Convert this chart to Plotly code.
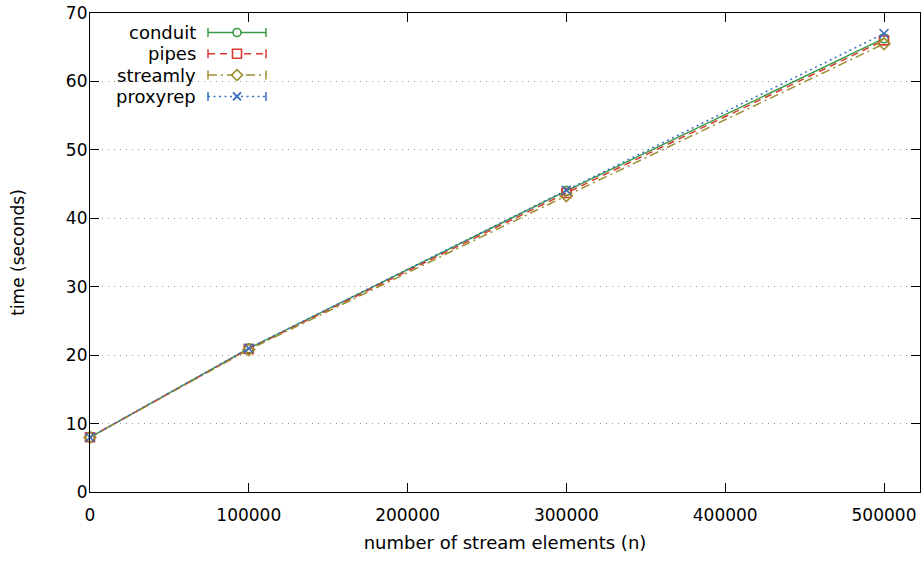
import plotly.graph_objects as go

# ---- data ----
n_elements = [0, 100000, 300000, 500000]
conduit = [8.0, 21.0, 44.0, 66.3]
pipes = [8.0, 20.9, 43.7, 66.0]
streamly = [8.0, 20.8, 43.3, 65.5]
proxyrep = [8.0, 21.0, 44.1, 67.0]
series_names = ["conduit", "pipes", "streamly", "proxyrep"]
x_ticks = [0, 100000, 200000, 300000, 400000, 500000]
y_ticks = [0, 10, 20, 30, 40, 50, 60, 70]

# ---- styles ----
colors = ["#3a9a45", "#d93a2f", "#9c8e30", "#3b6fc2"]
dashes = ["solid", "7px,5px", "9px,4px,2px,4px", "2px,3.5px"]
symbols = ["circle-open", "square-open", "diamond-open", "x-thin-open"]
kinds = ["circle", "square", "diamond", "x"]
values = [conduit, pipes, streamly, proxyrep]

W, H = 924, 563
L, R, T, B = 90, 4, 13, 71
PW, PH = W - L - R, H - T - B
X0S, Y1S = L, T + PH  # screen coords of plot left / bottom
FONT = "DejaVu Sans"
FS = 18

fig = go.Figure()
for name, ys, c, d, s in zip(series_names, values, colors, dashes, symbols):
    fig.add_trace(go.Scatter(
        x=n_elements, y=ys, name=name, mode="lines+markers",
        line=dict(color=c, width=1.5, dash=d),
        marker=dict(symbol=s, size=9, color=c, line=dict(color=c, width=1.6)),
        cliponaxis=False, showlegend=False))


def px(xp):
    return (xp - X0S) / PW


def py(yp):
    return (Y1S - yp) / PH


shapes = []
annotations = []
shapes.append(dict(type="rect", xref="paper", yref="paper", layer="between",
                   x0=px(98), x1=px(276), y0=py(107), y1=py(20),
                   fillcolor="white", line=dict(width=0)))
row_y = [32.5, 53.8, 75.1, 96.4]
for i, (name, c, d, k) in enumerate(zip(series_names, colors, dashes, kinds)):
    yc = row_y[i]
    annotations.append(dict(text=name, xref="paper", yref="paper", x=px(198), y=py(yc),
                            xanchor="right", yanchor="middle", showarrow=False,
                            font=dict(family=FONT, size=FS, color="black")))
    shapes.append(dict(type="line", xref="paper", yref="paper", layer="above",
                       x0=px(208), x1=px(266), y0=py(yc), y1=py(yc),
                       line=dict(color=c, width=1.5, dash=d)))
    for xe in (208, 266):
        shapes.append(dict(type="line", xref="paper", yref="paper", layer="above",
                           x0=px(xe), x1=px(xe), y0=py(yc - 4.5), y1=py(yc + 4.5),
                           line=dict(color=c, width=1.5)))
    mx = 237
    if k == "circle":
        shapes.append(dict(type="circle", xref="paper", yref="paper", layer="above",
                           x0=px(mx - 4), x1=px(mx + 4), y0=py(yc + 4), y1=py(yc - 4),
                           fillcolor="white", line=dict(color=c, width=1.6)))
    elif k == "square":
        shapes.append(dict(type="rect", xref="paper", yref="paper", layer="above",
                           x0=px(mx - 4.5), x1=px(mx + 4.5), y0=py(yc + 4.5), y1=py(yc - 4.5),
                           fillcolor="white", line=dict(color=c, width=1.6)))
    elif k == "diamond":
        path = "M {} {} L {} {} L {} {} L {} {} Z".format(
            px(mx - 5.5), py(yc), px(mx), py(yc - 5.5), px(mx + 5.5), py(yc), px(mx), py(yc + 5.5))
        shapes.append(dict(type="path", xref="paper", yref="paper", layer="above", path=path,
                           fillcolor="white", line=dict(color=c, width=1.6)))
    else:
        for a, b in ((-4, 4), (4, -4)):
            shapes.append(dict(type="line", xref="paper", yref="paper", layer="above",
                               x0=px(mx - 4), x1=px(mx + 4), y0=py(yc + a), y1=py(yc + b),
                               line=dict(color=c, width=2)))

fig.update_layout(
    width=W, height=H,
    margin=dict(l=L, r=R, t=T, b=B, autoexpand=False),
    plot_bgcolor="white", paper_bgcolor="white",
    font=dict(family=FONT, size=FS, color="black"),
    shapes=shapes, annotations=annotations,
    showlegend=False,
)
fig.update_xaxes(
    range=[0, 522670], tickvals=x_ticks, ticktext=[str(v) for v in x_ticks],
    ticks="inside", ticklen=9, tickcolor="black", tickwidth=1,
    showline=True, linecolor="black", linewidth=1.2, mirror="ticks",
    showgrid=False, zeroline=False, automargin=False,
    ticklabelstandoff=7, ticklabeloverflow="allow",
    title=dict(text="number of stream elements (n)", standoff=12,
               font=dict(family=FONT, size=FS)),
    tickfont=dict(family=FONT, size=17),
)
fig.update_yaxes(
    range=[0, 70], tickvals=y_ticks,
    ticks="inside", ticklen=9, tickcolor="black", tickwidth=1,
    showline=True, linecolor="black", linewidth=1.2, mirror="ticks",
    showgrid=True, gridcolor="#9a9a9a", griddash="1px,5px", gridwidth=1,
    zeroline=False, automargin=False,
    ticklabelstandoff=-2, ticklabeloverflow="allow",
    title=dict(text="time (seconds)", standoff=36, font=dict(family=FONT, size=17)),
    tickfont=dict(family=FONT, size=17),
)

fig.write_html("out.html", config={"displayModeBar": False},
               post_script="document.body.style.margin='0';")
